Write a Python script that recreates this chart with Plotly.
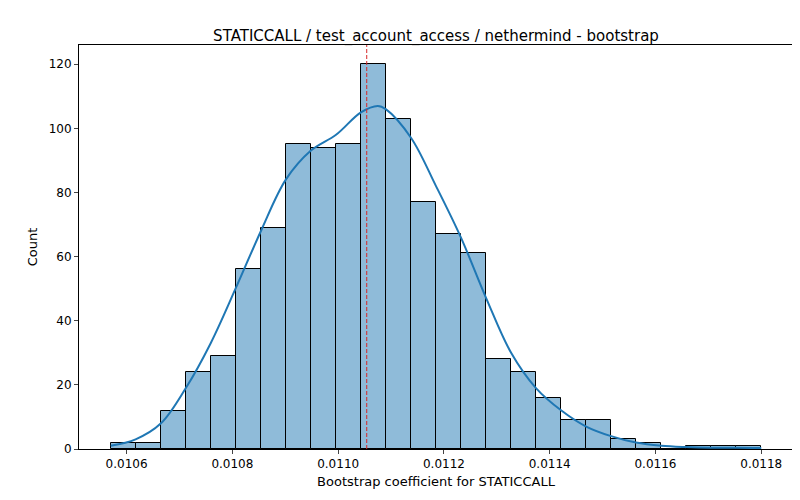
import numpy as np
import plotly.graph_objects as go

# histogram
bin_start = 0.010570
bin_width = 0.0000473
counts = [2, 2, 12, 24, 29, 56, 69, 95, 94, 95, 120, 103, 77, 67, 61, 28, 24, 16, 9, 9, 3, 2, 0, 1, 1, 1]
# kde curve
kde_x = [0.010570, 0.010617, 0.010665, 0.010712, 0.010759, 0.010806, 0.010854, 0.010901, 0.010948,
         0.010996, 0.011043, 0.011075, 0.011090, 0.011138, 0.011185, 0.011232, 0.011280, 0.011327,
         0.011374, 0.011422, 0.011469, 0.011516, 0.011563, 0.011611, 0.011658, 0.011705, 0.011753, 0.011800]
kde_y = [1, 3, 8, 19, 33, 50, 68, 84, 93, 98, 105, 107, 106, 97, 82, 66, 47, 30, 19, 12, 7, 4, 2,
         1, 0.6, 0.4, 0.4, 0.3]
vline = 0.011054

centers = bin_start + bin_width * (np.arange(len(counts)) + 0.5)

fig = go.Figure()
fig.add_trace(go.Bar(x=centers, y=counts, width=bin_width,
                     marker=dict(color='rgba(31,119,180,0.5)', line=dict(color='black', width=1))))
fig.add_trace(go.Scatter(x=kde_x, y=kde_y, mode='lines', line=dict(color='#1f77b4', width=2, shape='spline')))
fig.add_vline(x=vline, line=dict(color='#d62728', width=1, dash='4px,2px'), layer='above')

ax = dict(showline=True, linecolor='black', mirror=True, ticks='outside', ticklen=4,
          showgrid=False, zeroline=False, tickfont=dict(size=12, color='black'))
fig.update_layout(
    width=800, height=500, showlegend=False, plot_bgcolor='white', paper_bgcolor='white',
    font=dict(family='DejaVu Sans', color='black'),
    title=dict(text='STATICCALL / test_account_access / nethermind - bootstrap', x=0.535, xanchor='center',
               y=0.955, font=dict(size=15)),
    margin=dict(l=71, r=15, t=37, b=59), bargap=0,
    xaxis=dict(ax, range=[0.010510, 0.011860], tickvals=[0.0106, 0.0108, 0.011, 0.0112, 0.0114, 0.0116, 0.0118],
               ticktext=['0.0106', '0.0108', '0.0110', '0.0112', '0.0114', '0.0116', '0.0118'],
               title=dict(text='Bootstrap coefficient for STATICCALL', font=dict(size=13), standoff=6)),
    yaxis=dict(ax, range=[0, 126], dtick=20, title=dict(text='Count', font=dict(size=13), standoff=8)),
)
fig.write_html('out.html')
